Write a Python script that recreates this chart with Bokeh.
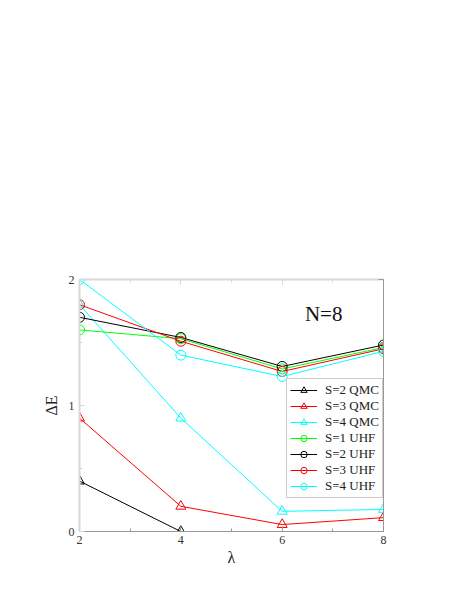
from bokeh.plotting import figure
from bokeh.models import (LinearAxis, Legend, LegendItem, Label, Range1d, FixedTicker,
                          CustomJSTickFormatter)
from bokeh.embed import file_html
from bokeh.resources import INLINE

lam = [2, 4, 6, 8]
qmc_s2_x = [2, 4]
qmc_s2 = [0.40, 0.0]
qmc_s3 = [0.90, 0.20, 0.055, 0.11]
qmc_s4 = [1.80, 0.90, 0.16, 0.175]
uhf_s1 = [1.60, 1.53, 1.29, 1.46]
uhf_s2 = [1.70, 1.54, 1.31, 1.48]
uhf_s3 = [1.80, 1.51, 1.27, 1.45]
uhf_s4 = [2.00, 1.40, 1.23, 1.43]

FONT = "Liberation Serif"

p = figure(width=455, height=591, output_backend="svg", toolbar_location=None,
           x_range=Range1d(2, 8), y_range=Range1d(0, 2),
           min_border_left=79, min_border_right=72, min_border_top=279, min_border_bottom=60,
           x_axis_label="λ", y_axis_label="ΔE")
p.grid.visible = False
p.outline_line_color = None
p.background_fill_color = "white"

def style_axis(ax, color, width):
    ax.axis_line_color = color
    ax.axis_line_width = width
    ax.major_tick_line_color = color
    ax.minor_tick_line_color = color
    ax.major_tick_in = 5
    ax.major_tick_out = 0
    ax.minor_tick_in = 3
    ax.minor_tick_out = 0
    ax.major_label_text_font = FONT
    ax.major_label_text_font_size = "12px"
    ax.major_label_text_color = "#333333"
    ax.axis_label_text_font = FONT
    ax.axis_label_text_font_size = "16px"
    ax.axis_label_text_font_style = "normal"
    ax.axis_label_text_color = "#222222"

xt = FixedTicker(ticks=[2, 4, 6, 8], minor_ticks=[3, 5, 7])
yt = FixedTicker(ticks=[0, 1, 2], minor_ticks=[0.5, 1.5])

xa = p.xaxis[0]
xa.ticker = xt
style_axis(xa, "#999999", 1)
xa.major_label_standoff = 4
xa.axis_label_standoff = 2
ya = p.yaxis[0]
ya.ticker = yt
style_axis(ya, "#d8d8d8", 2)
ya.major_label_standoff = 5
ya.axis_label_standoff = 6

top = LinearAxis(ticker=FixedTicker(ticks=[2, 4, 6, 8], minor_ticks=[3, 5, 7]),
                 formatter=CustomJSTickFormatter(code="return ''"))
style_axis(top, "#d8d8d8", 2)
p.add_layout(top, "above")
right = LinearAxis(ticker=FixedTicker(ticks=[0, 1, 2], minor_ticks=[0.5, 1.5]),
                   formatter=CustomJSTickFormatter(code="return ''"))
style_axis(right, "#999999", 1)
p.add_layout(right, "right")

series = [
    ("S=2 QMC", qmc_s2_x, qmc_s2, "black", "triangle"),
    ("S=3 QMC", lam, qmc_s3, "red", "triangle"),
    ("S=4 QMC", lam, qmc_s4, "cyan", "triangle"),
    ("S=1 UHF", lam, uhf_s1, "lime", "circle"),
    ("S=2 UHF", lam, uhf_s2, "black", "circle"),
    ("S=3 UHF", lam, uhf_s3, "red", "circle"),
    ("S=4 UHF", lam, uhf_s4, "cyan", "circle"),
]
items = []
for name, xs, ys, col, mk in series:
    l = p.line(xs, ys, line_color=col, line_width=1)
    s = p.scatter(xs, ys, marker=mk, size=10, line_color=col, fill_color=None, line_width=1)
    items.append(LegendItem(label=name, renderers=[l, s]))

legend = Legend(items=items, location=(207, 33), spacing=0, padding=3,
                label_height=16, glyph_height=16, glyph_width=27, label_standoff=8,
                label_text_font=FONT, label_text_font_size="13px", label_text_color="#222222",
                border_line_color="#999999", border_line_width=1, background_fill_alpha=1,
                margin=0)
p.add_layout(legend, "center")

p.add_layout(Label(x=6.82, y=1.73, text="N=8", text_font=FONT, text_font_size="21px",
                   text_align="center", text_baseline="middle", text_color="#111111"))

open("out.html", "w").write(file_html(p, INLINE))
